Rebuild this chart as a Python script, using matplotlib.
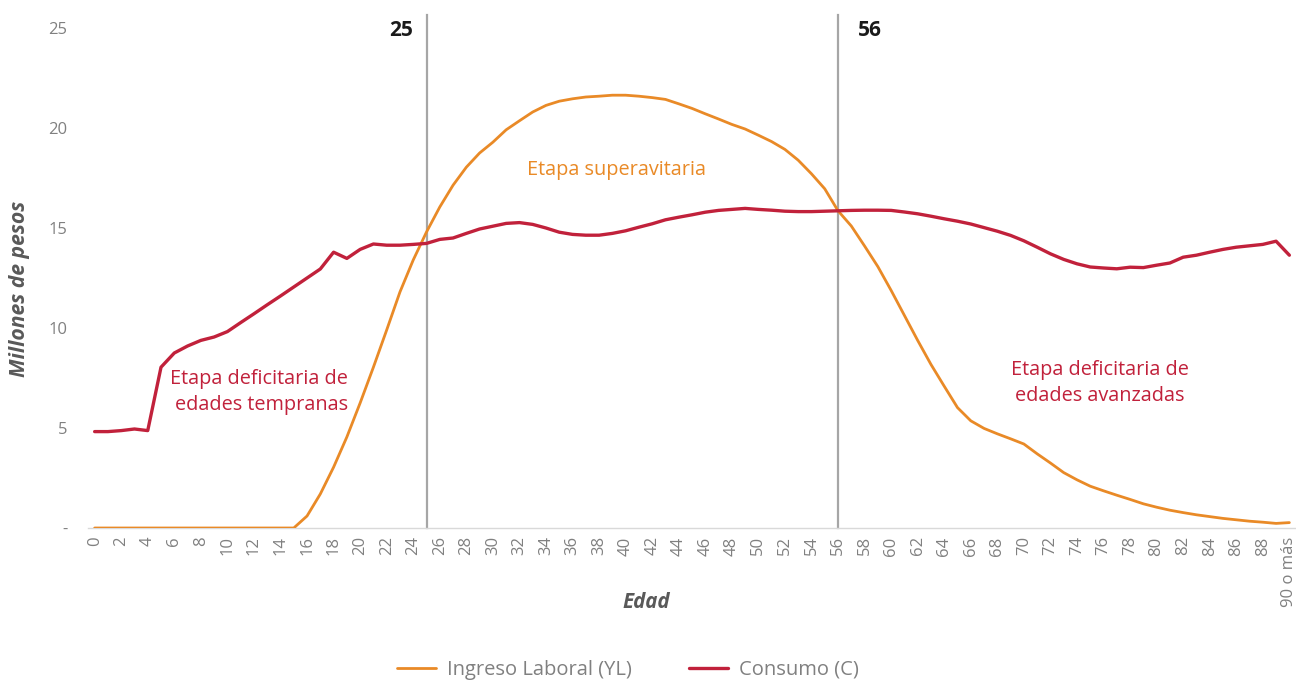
import matplotlib
matplotlib.use("Agg")
import matplotlib.pyplot as plt
import numpy as np

plt.rcParams['font.family'] = ['Open Sans', 'DejaVu Sans']

ages = list(range(0, 91))
tick_labels = [str(a) if a % 2 == 0 and a < 90 else '' for a in ages]
tick_labels[90] = '90 o más'

ingreso = [0, 0, 0, 0, 0, 0, 0, 0, 0, 0,
           0, 0, 0, 0, 0, 0, 0.6, 1.7, 3.04, 4.55,
           6.25, 8.04, 9.9, 11.8, 13.4, 14.8, 16.05, 17.14, 18.04, 18.75,
           19.29, 19.91, 20.36, 20.8, 21.13, 21.34, 21.46, 21.55, 21.59, 21.64,
           21.64, 21.59, 21.52, 21.43, 21.21, 20.98, 20.71, 20.45, 20.18, 19.95,
           19.64, 19.32, 18.93, 18.39, 17.71, 16.96, 15.86, 15.1, 14.1, 13.07,
           11.88, 10.63, 9.38, 8.18, 7.09, 6.02, 5.36, 4.98, 4.71, 4.46,
           4.2, 3.71, 3.25, 2.77, 2.41, 2.09, 1.86, 1.64, 1.43, 1.21,
           1.04, 0.89, 0.77, 0.66, 0.57, 0.48, 0.41, 0.34, 0.29, 0.23,
           0.27]

consumo = [4.82, 4.82, 4.87, 4.95, 4.87, 8.04, 8.75, 9.1, 9.38, 9.55,
           9.82, 10.27, 10.71, 11.16, 11.6, 12.05, 12.5, 12.95, 13.79, 13.48,
           13.93, 14.2, 14.14, 14.14, 14.18, 14.23, 14.43, 14.5, 14.73, 14.95,
           15.09, 15.23, 15.27, 15.18, 15.0, 14.79, 14.68, 14.64, 14.64, 14.73,
           14.86, 15.04, 15.21, 15.41, 15.54, 15.66, 15.79, 15.88, 15.93, 15.98,
           15.93, 15.89, 15.84, 15.82, 15.82, 15.84, 15.86, 15.88, 15.89, 15.89,
           15.88, 15.8, 15.71, 15.59, 15.46, 15.34, 15.2, 15.02, 14.84, 14.63,
           14.36, 14.04, 13.71, 13.43, 13.21, 13.05, 13.0, 12.96, 13.04, 13.02,
           13.14, 13.25, 13.54, 13.64, 13.79, 13.93, 14.04, 14.11, 14.18, 14.34,
           13.64]

y_ticks = [0, 5, 10, 15, 20, 25]
y_tick_labels = ['-', '5', '10', '15', '20', '25']
markers_x = [25, 56]

ORANGE = '#E98A27'
RED = '#C1213B'
GRAY = '#808080'

fig = plt.figure(figsize=(12.96, 6.84), dpi=100)
ax = fig.add_axes([88/1296, 1-528/684, 1-88/1296, (528-28)/684])

for xv in markers_x:
    ax.plot([xv, xv], [0, 25.65], color='#A6A6A6', lw=1.6, clip_on=False, zorder=1)

ax.plot(ages, ingreso, color=ORANGE, lw=2.0, label='Ingreso Laboral (YL)', zorder=3,
        solid_capstyle='round')
ax.plot(ages, consumo, color=RED, lw=2.4, label='Consumo (C)', zorder=3,
        solid_capstyle='round')

ax.set_xlim(-0.5, 90.5)
ax.set_ylim(0, 25)
ax.set_xticks(ages)
ax.set_xticklabels(tick_labels, rotation=90, color=GRAY, fontsize=12)
ax.set_yticks(y_ticks)
ax.set_yticklabels(y_tick_labels, color=GRAY, fontsize=12)
ax.tick_params(axis='both', length=0)
ax.tick_params(axis='y', pad=15)
ax.tick_params(axis='x', pad=6)
for s in ['top', 'right', 'left']:
    ax.spines[s].set_visible(False)
ax.spines['bottom'].set_color('#D9D9D9')
ax.spines['bottom'].set_linewidth(1)

ax.text(24.0, 24.9, '25', ha='right', va='center', fontsize=15, fontweight='bold', color='#1a1a1a')
ax.text(57.5, 24.9, '56', ha='left', va='center', fontsize=15, fontweight='bold', color='#1a1a1a')
ax.text(39.3, 17.9, 'Etapa superavitaria', ha='center', va='center', fontsize=14.3, color=ORANGE)
ax.text(19.1, 6.8, 'Etapa deficitaria de\nedades tempranas', ha='right', va='center',
        multialignment='right', fontsize=14.3, color=RED, linespacing=1.35)
ax.text(75.7, 7.25, 'Etapa deficitaria de\nedades avanzadas', ha='center', va='center',
        multialignment='center', fontsize=14.3, color=RED, linespacing=1.35)

fig.text(646/1296, 1-603/684, 'Edad', ha='center', va='center', fontsize=14.8,
         fontweight='bold', fontstyle='italic', color='#595959')
fig.text(20/1296, 1-289/684, 'Millones de pesos', ha='center', va='center', rotation=90,
         fontsize=15.2, fontweight='bold', fontstyle='italic', color='#595959')

leg = fig.legend(loc='center', bbox_to_anchor=(628/1296, 1-670/684), ncol=2, frameon=False,
                 fontsize=14.5, handlelength=1.95, columnspacing=2.8, handletextpad=0.55)
for t in leg.get_texts():
    t.set_color(GRAY)

fig.savefig('out.png', dpi=100)
